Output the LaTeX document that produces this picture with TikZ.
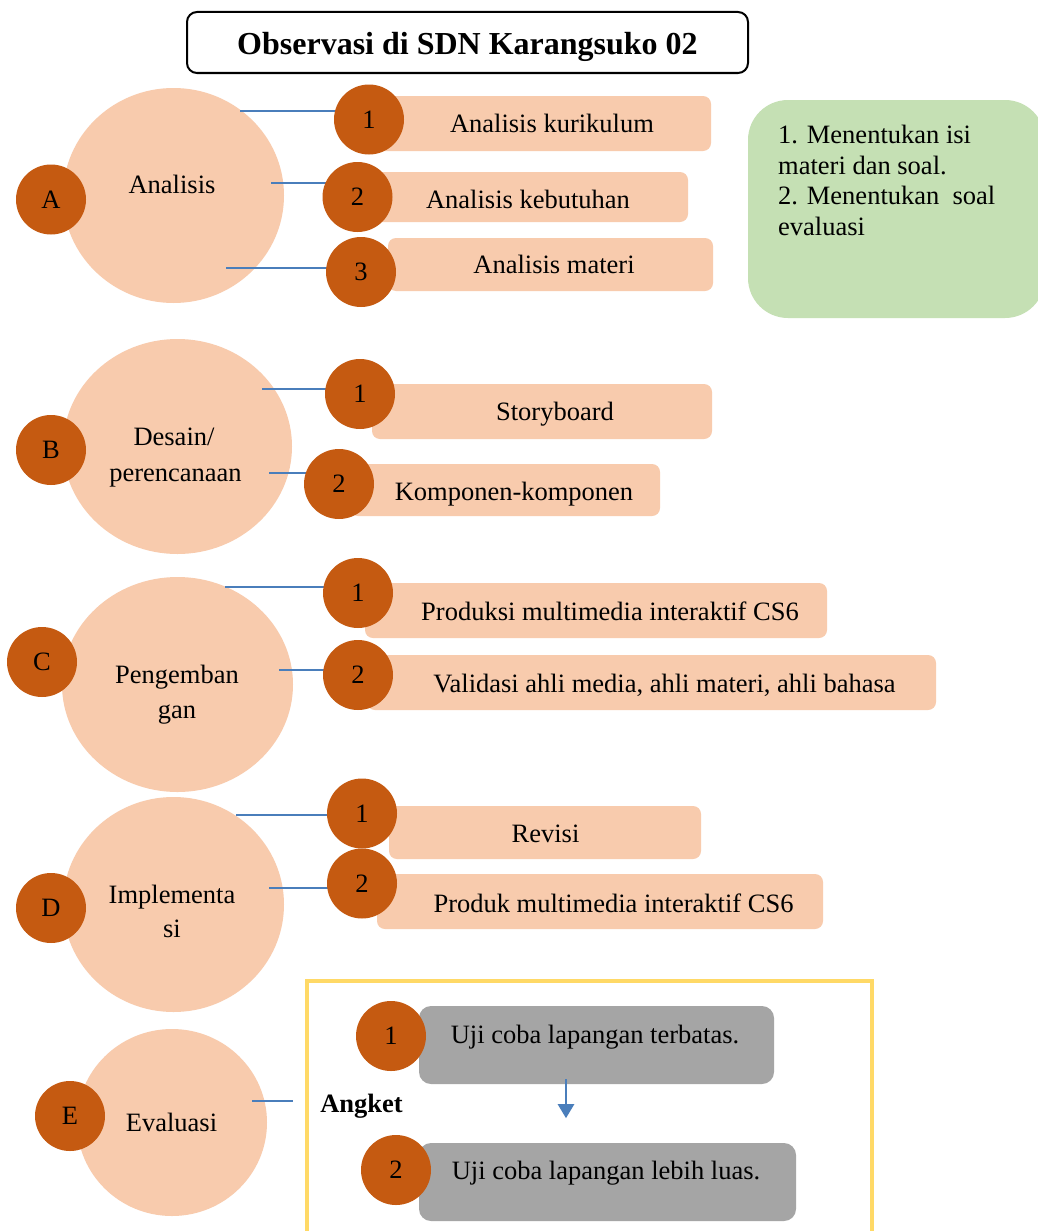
\documentclass[tikz,border=0pt]{standalone}
\usepackage{fontspec}
\setmainfont{Liberation Serif}
\usetikzlibrary{shapes.geometric,fit,arrows.meta}
\definecolor{peach}{HTML}{F8CBAD}
\definecolor{rust}{HTML}{C55A11}
\definecolor{mint}{HTML}{C5E0B4}
\definecolor{greybox}{HTML}{A5A5A5}
\definecolor{gold}{HTML}{FFD966}
\definecolor{linkblue}{HTML}{4A7EBB}
\pgfdeclarelayer{bg}
\pgfdeclarelayer{lines}
\pgfsetlayers{bg,lines,main}
\newcommand\bodyfont{\fontsize{26.5}{30.5}\selectfont}
\newcommand\titlefont{\fontsize{32}{38}\selectfont\bfseries}
\tikzset{
  bigc/.style={ellipse, fill=peach, inner sep=0pt},
  letc/.style={circle, fill=rust, minimum size=70pt, inner sep=0pt, font=\bodyfont},
  pbox/.style={rectangle, rounded corners=8pt, fill=peach, inner sep=0pt},
  gbox/.style={rectangle, rounded corners=12pt, fill=greybox, inner sep=0pt},
  txt/.style={anchor=base, inner sep=0pt, font=\bodyfont},
  conn/.style={draw=linkblue, line width=2pt},
  flowarrow/.style={draw=linkblue, line width=2.5pt, -{Triangle[width=16pt,length=14pt]}}
}
\begin{document}
\begin{tikzpicture}[x=1pt,y=-1pt]
\clip (0,0) rectangle (1038,1231);
\begin{pgfonlayer}{bg}
\fill[white] (0,0) rectangle (1038,1231);
\end{pgfonlayer}

% title
\node[draw, line width=2pt, rounded corners=10pt, inner sep=0pt,
      minimum width=561pt, minimum height=61pt, text height=25pt, text depth=0pt,
      font=\titlefont] (title) at (467.5,42.5) {Observasi di SDN Karangsuko 02};

% big circles
\begin{pgfonlayer}{bg}
\node[bigc, minimum width=221pt, minimum height=215pt] (cA) at (173.5,195.5) {};
\node[bigc, minimum width=229pt, minimum height=215pt] (cB) at (177.5,446.5) {};
\node[bigc, minimum width=231pt, minimum height=215pt] (cC) at (177.5,684.5) {};
\node[bigc, minimum width=221pt, minimum height=215pt] (cD) at (173.5,904.5) {};
\node[bigc, minimum width=190pt, minimum height=187pt] (cE) at (172,1122.5) {};
\end{pgfonlayer}

% circle labels
\node[txt] (tA) at (172,193) {Analisis};
\node[txt] (tB1) at (174,445) {Desain/};
\node[txt] (tB2) at (175.5,481) {perencanaan};
\node[txt] (tC1) at (177,683) {Pengemban};
\node[txt] (tC2) at (177,718) {gan};
\node[txt] (tD1) at (172,903) {Implementa};
\node[txt] (tD2) at (172,937) {si};
\node[txt] (tE) at (171.5,1131) {Evaluasi};

% letter circles
\node[letc] (lA) at (51,199.5) {A};
\node[letc] (lB) at (51,450) {B};
\node[letc] (lC) at (42,662) {C};
\node[letc] (lD) at (51,908) {D};
\node[letc] (lE) at (70,1116) {E};

% green note
\node[fill=mint, rounded corners=40pt, inner sep=0pt, fit={(748,100) (1045,318)}] (note) {};
\node[anchor=north west, inner sep=0pt, align=left, font=\bodyfont] (notetext) at (778,125)
  {1. Menentukan isi\\materi dan soal.\\2. Menentukan\ \ soal\\evaluasi};

% peach boxes
\node[pbox, fit={(375,96) (711,151)}] (bA1) {};
\node[pbox, fit={(370,172) (688,222)}] (bA2) {};
\node[pbox, fit={(388,238) (713,291)}] (bA3) {};
\node[pbox, fit={(372,384) (712,439)}] (bB1) {};
\node[pbox, fit={(350,464) (660,516)}] (bB2) {};
\node[pbox, fit={(365,583) (827,638)}] (bC1) {};
\node[pbox, fit={(367,655) (936,710)}] (bC2) {};
\node[pbox, fit={(389,806) (701,859)}] (bD1) {};
\node[pbox, fit={(377,874) (823,929)}] (bD2) {};

\node[txt] (xA1) at (552,132) {Analisis kurikulum};
\node[txt] (xA2) at (528,208) {Analisis kebutuhan};
\node[txt] (xA3) at (554,273) {Analisis materi};
\node[txt] (xB1) at (555,420) {Storyboard};
\node[txt] (xB2) at (514,500) {Komponen-komponen};
\node[txt] (xC1) at (610,620) {Produksi multimedia interaktif CS6};
\node[txt] (xC2) at (664.5,692) {Validasi ahli media, ahli materi, ahli bahasa};
\node[txt] (xD1) at (545.5,842) {Revisi};
\node[txt] (xD2) at (613.5,912) {Produk multimedia interaktif CS6};

% evaluation frame
\node[draw=gold, line width=3.5pt, inner sep=0pt, fit={(307,981) (872,1270)}] (frame) {};
\node[gbox, fit={(419,1006) (774,1084)}] (g1) {};
\node[gbox, fit={(419,1143) (796,1221)}] (g2) {};
\node[txt] (xg1) at (595,1043) {Uji coba lapangan terbatas.};
\node[txt] (xg2) at (606,1179) {Uji coba lapangan lebih luas.};
\node[txt, font=\bodyfont\bfseries] (angket) at (361.5,1112) {Angket};

% number circles
\node[letc] (nA1) at (369,119.5) {1};
\node[letc] (nA2) at (357.5,197) {2};
\node[letc] (nA3) at (361,272) {3};
\node[letc] (nB1) at (360,394) {1};
\node[letc] (nB2) at (339,484) {2};
\node[letc] (nC1) at (358,593) {1};
\node[letc] (nC2) at (358,675) {2};
\node[letc] (nD1) at (362,813.5) {1};
\node[letc] (nD2) at (362,883.5) {2};
\node[letc] (nE1) at (391,1036) {1};
\node[letc] (nE2) at (396,1170) {2};

% connectors
\coordinate (sA1) at (240,111);
\coordinate (sA2) at (271,183);
\coordinate (sA3) at (226,268);
\coordinate (sB1) at (262,389);
\coordinate (sB2) at (269,473);
\coordinate (sC1) at (225,587);
\coordinate (sC2) at (279,670);
\coordinate (sD1) at (236,815);
\coordinate (sD2) at (269,888);
\coordinate (sE) at (252,1101);
\coordinate (eE) at (293,1101);
\begin{pgfonlayer}{lines}
\draw[conn] (sA1) -- (sA1 -| nA1.center);
\draw[conn] (sA2) -- (sA2 -| nA2.center);
\draw[conn] (sA3) -- (sA3 -| nA3.center);
\draw[conn] (sB1) -- (sB1 -| nB1.center);
\draw[conn] (sB2) -- (sB2 -| nB2.center);
\draw[conn] (sC1) -- (sC1 -| nC1.center);
\draw[conn] (sC2) -- (sC2 -| nC2.center);
\draw[conn] (sD1) -- (sD1 -| nD1.center);
\draw[conn] (sD2) -- (sD2 -| nD2.center);
\draw[conn] (sE) -- (eE);
\end{pgfonlayer}
\draw[flowarrow] ([xshift=-30.5pt,yshift=5pt]g1.south) -- ([xshift=-30.5pt,yshift=-34pt]g1.south);
\end{tikzpicture}
\end{document}
